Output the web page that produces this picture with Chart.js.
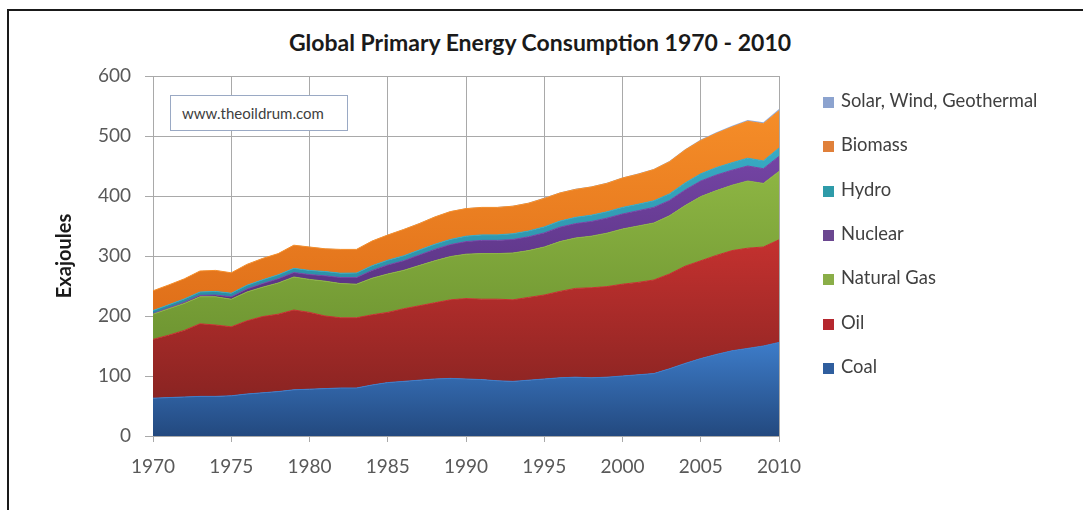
<!DOCTYPE html>
<html>
<head>
<meta charset="utf-8">
<title>Global Primary Energy Consumption 1970 - 2010</title>
<script src="https://cdn.jsdelivr.net/npm/chart.js@4.4.0/dist/chart.umd.min.js"></script>
<style>
  html, body { margin: 0; padding: 0; background: #fff; overflow: hidden; }
  #frame {
    position: absolute; left: 7px; top: 9px; width: 1200px; height: 600px;
    border-top: 2px solid #1a1a1a; border-left: 2px solid #1a1a1a;
  }
  #wrap { position: absolute; left: 0; top: 0; width: 1083px; height: 510px; }
  #chartTitle {
    position: absolute; left: 0; top: 28px; width: 1080px; text-align: center;
    font: bold 23px Lato, sans-serif; color: #1a1a1a; line-height: 28px;
  }
  #note {
    position: absolute; left: 170px; top: 95px; width: 178px; height: 36px;
    border: 1px solid #9aa9c4; background: #fff; box-sizing: border-box;
    font: 15px Lato, sans-serif; color: #404040;
    line-height: 34px; padding-left: 11px;
  }
  #legend { position: absolute; left: 0; top: 0; }
  .item {
    position: absolute; left: 823px; height: 24px; line-height: 24px;
    font: 18.4px Lato, sans-serif; color: #404040; white-space: nowrap;
  }
  .item span {
    display: inline-block; width: 11px; height: 11px; margin-right: 7px; vertical-align: -1px;
  }
</style>
</head>
<body>
<div id="frame"></div>
<div id="chartTitle">Global Primary Energy Consumption 1970 - 2010</div>
<div id="wrap"><canvas id="energyChart" width="1083" height="510"></canvas></div>
<div id="note">www.theoildrum.com</div>
<div id="legend"></div>
<script>
// --- Datos (EJ por año) ---
const years = [1970, 1971, 1972, 1973, 1974, 1975, 1976, 1977, 1978, 1979,
               1980, 1981, 1982, 1983, 1984, 1985, 1986, 1987, 1988, 1989,
               1990, 1991, 1992, 1993, 1994, 1995, 1996, 1997, 1998, 1999,
               2000, 2001, 2002, 2003, 2004, 2005, 2006, 2007, 2008, 2009, 2010];

const coal = [63, 64, 65, 66, 66, 67, 70, 72, 74, 77,
              78, 79, 80, 80, 85, 89, 91, 93, 95, 96,
              95, 94, 92, 91, 93, 95, 97, 98, 97, 98,
              100, 102, 104, 112, 121, 129, 136, 142, 146, 150, 156];

const oil = [98, 104, 111, 121, 119, 115, 122, 127, 129, 133,
             128, 121, 117, 117, 117, 117, 121, 124, 127, 131,
             134, 134, 136, 136, 138, 140, 144, 148, 150, 151,
             153, 154, 156, 158, 162, 163, 165, 167, 167, 165, 171];

const naturalGas = [42, 44, 45, 45, 47, 46, 48, 49, 52, 55,
                    55, 58, 57, 56, 61, 64, 64, 67, 70, 72,
                    74, 76, 76, 78, 78, 80, 83, 84, 86, 89,
                    92, 94, 95, 97, 101, 107, 108, 109, 112, 106, 114];

const nuclear = [1, 1.5, 2, 2.5, 3, 4, 5, 6, 7, 7.5,
                 8, 9, 10, 11, 13, 15, 16, 17.5, 19, 20,
                 21, 22, 22, 22.5, 23, 23.5, 24, 24, 24.5, 25,
                 25, 25.5, 26, 25.5, 26, 26, 26, 25, 25, 24.5, 25];

const hydro = [5, 5.2, 5.4, 5.5, 6, 6, 6.2, 6.3, 6.6, 6.9,
               7, 7.1, 7.3, 7.6, 7.9, 8, 8.2, 8.3, 8.5, 8.6,
               9, 9.2, 9.2, 9.6, 9.7, 10, 10.2, 10.4, 10.5, 10.6,
               11, 10.8, 11, 11, 11.7, 12, 12.4, 12.5, 13, 13, 14];

const biomass = [33, 33, 33.5, 35, 35, 34, 34.8, 35.6, 35.4, 38.6,
                 39, 37.9, 39.7, 39.4, 41, 42, 43.8, 44, 45.5, 46.4,
                 46, 45.8, 45.8, 45.9, 46.3, 47.5, 46.8, 46.6, 47, 47.4,
                 49, 50, 52, 53.5, 55, 55.5, 57, 59.5, 61.5, 62, 62];

const solarWindGeo = [0.1, 0.1, 0.1, 0.1, 0.1, 0.1, 0.2, 0.2, 0.2, 0.2,
                      0.3, 0.3, 0.3, 0.4, 0.4, 0.5, 0.5, 0.6, 0.6, 0.7,
                      0.7, 0.7, 0.8, 0.8, 0.8, 0.9, 0.9, 0.9, 1, 1,
                      1, 1.1, 1.2, 1.3, 1.4, 1.6, 1.8, 2, 2.3, 2.5, 3];

const yTicks = [0, 100, 200, 300, 400, 500, 600];
const xTicks = [1970, 1975, 1980, 1985, 1990, 1995, 2000, 2005, 2010];

// Series de abajo hacia arriba
const seriesNames = ['Coal', 'Oil', 'Natural Gas', 'Nuclear', 'Hydro', 'Biomass', 'Solar, Wind, Geothermal'];
const seriesData = [coal, oil, naturalGas, nuclear, hydro, biomass, solarWindGeo];

// Colores: parte alta / parte baja del degradado, y color de la leyenda
const fillTop    = ['#3d7cc9', '#c4312f', '#8db543', '#7444a4', '#38aac4', '#f58d28', '#93addc'];
const fillBottom = ['#23497f', '#8a2422', '#6f9632', '#57327f', '#2a8aa0', '#e0701a', '#7f9bd0'];
const legendColors = ['#2f5e9e', '#b5272e', '#8aae48', '#6b4790', '#2e9ba9', '#e0803a', '#8ca3cf'];

// Degradado vertical ajustado al rango de cada banda
function bandFill(idx) {
    return function (ctx) {
        const chart = ctx.chart;
        if (!chart.chartArea || !chart.scales.y) return fillTop[idx];
        let hi = 0, lo = Infinity;
        for (let i = 0; i < years.length; i++) {
            let base = 0;
            for (let k = 0; k < idx; k++) base += seriesData[k][i];
            hi = Math.max(hi, base + seriesData[idx][i]);
            lo = Math.min(lo, base);
        }
        const yScale = chart.scales.y;
        const g = chart.ctx.createLinearGradient(0, yScale.getPixelForValue(hi), 0, yScale.getPixelForValue(lo));
        g.addColorStop(0, fillTop[idx]);
        g.addColorStop(1, fillBottom[idx]);
        return g;
    };
}

const datasets = seriesData.map((data, idx) => ({
    label: seriesNames[idx],
    data: data,
    fill: idx === 0 ? 'origin' : '-1',
    backgroundColor: bandFill(idx),
    borderColor: idx === 6 ? 'rgba(0,0,0,0)' : fillTop[idx],
    borderWidth: idx === 6 ? 0 : 1,
    pointRadius: 0,
    tension: 0
}));

const gridColor = '#a9a9a9';
const tickFont = { family: 'Lato', size: 19 };

new Chart(document.getElementById('energyChart').getContext('2d'), {
    type: 'line',
    data: { labels: years, datasets: datasets },
    options: {
        responsive: false,
        animation: false,
        layout: { padding: { left: 53, right: 304, top: 76, bottom: 0 } },
        scales: {
            x: {
                type: 'linear',
                min: 1970,
                max: 2010,
                afterBuildTicks: (scale) => { scale.ticks = xTicks.map(v => ({ value: v })); },
                afterFit: (scale) => { scale.height = 74; },
                grid: { color: gridColor, tickLength: 6 },
                border: { color: gridColor },
                ticks: { font: tickFont, color: '#595959', padding: 13, maxRotation: 0, callback: v => String(v) }
            },
            y: {
                stacked: true,
                min: 0,
                max: 600,
                afterBuildTicks: (scale) => { scale.ticks = yTicks.map(v => ({ value: v })); },
                afterFit: (scale) => { scale.width = 100; },
                grid: { color: gridColor, tickLength: 8 },
                border: { color: gridColor },
                ticks: { font: tickFont, color: '#595959', padding: 14 },
                title: {
                    display: true,
                    text: 'Exajoules',
                    font: { family: 'Lato', size: 20, weight: 'bold' },
                    color: '#1a1a1a',
                    padding: 0
                }
            }
        },
        plugins: {
            legend: { display: false },
            tooltip: { enabled: false },
            title: { display: false }
        }
    }
});

// Leyenda en orden inverso (de arriba hacia abajo)
const legendEl = document.getElementById('legend');
for (let i = seriesNames.length - 1, row = 0; i >= 0; i--, row++) {
    const item = document.createElement('div');
    item.className = 'item';
    item.style.top = (101 - 12 + row * 44.3) + 'px';
    const box = document.createElement('span');
    box.style.background = legendColors[i];
    item.appendChild(box);
    item.appendChild(document.createTextNode(seriesNames[i]));
    legendEl.appendChild(item);
}
</script>
</body>
</html>
